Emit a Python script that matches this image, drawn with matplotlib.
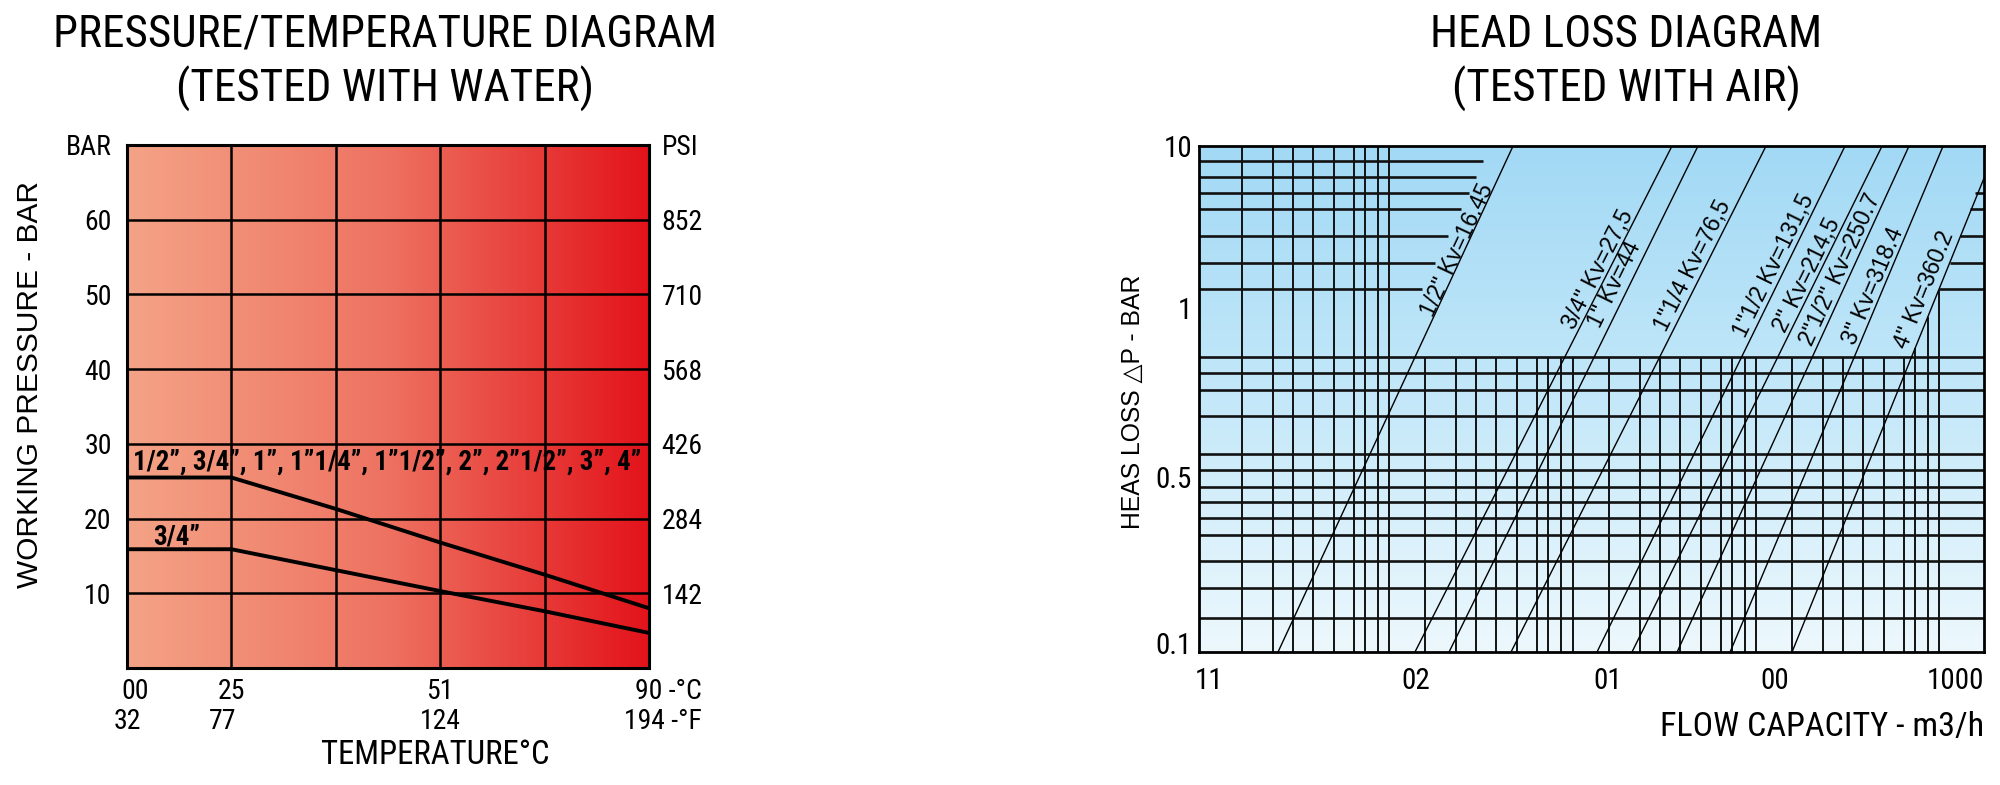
import os
import numpy as np
import matplotlib.pyplot as plt
from matplotlib import font_manager as fm
from matplotlib.colors import LinearSegmentedColormap

REGULAR = ['Liberation Sans', 'DejaVu Sans']


def find_condensed(bold=False):
    """Look for an installed condensed / narrow sans file."""
    prefs = ['roboto', 'liberationsans', 'notosans', 'dejavusans', 'opensans', 'lato', '']
    files = []
    for f in fm.fontManager.ttflist:
        base = os.path.splitext(os.path.basename(f.fname))[0].lower().replace(' ', '')
        if not ('condensed' in base or 'narrow' in base):
            continue
        if any(k in base for k in ['italic', 'oblique', 'mono', 'serif', 'semicondensed',
                                   'extracondensed', 'ultracondensed', 'display']):
            continue
        has_bold = 'bold' in base and not any(k in base for k in ['semibold', 'extrabold'])
        other = any(k in base for k in ['light', 'thin', 'medium', 'black', 'semibold', 'extrabold'])
        if bold and not has_bold:
            continue
        if not bold and (has_bold or other):
            continue
        files.append((base, f.fname))
    for p in prefs:
        for base, path in sorted(files):
            if base.startswith(p):
                return path
    return None


COND_PATH = find_condensed(False)
COND_BOLD_PATH = find_condensed(True) or COND_PATH


def cond(size, bold=False):
    path = COND_BOLD_PATH if bold else COND_PATH
    if path:
        return fm.FontProperties(fname=path, size=size)
    return fm.FontProperties(family='DejaVu Sans', size=size,
                             weight='bold' if bold else 'normal')


# ---------------- pressure / temperature (water) ----------------
temp_cols = [0, 1, 2, 3, 4, 5]              # grid columns of the chart
temp_label_cols = [0, 1, 3, 5]
temp_c_labels = ['00', '25', '51', '90 -°C']
temp_f_labels = ['32', '77', '124', '194 -°F']
bar_ticks = [10, 20, 30, 40, 50, 60]
psi_labels = ['142', '284', '426', '568', '710', '852']
p_all_sizes = [25.5, 25.5, 21.3, 16.8, 12.5, 8.0]   # 1/2" ... 4"
p_34 = [15.9, 15.9, 13.1, 10.3, 7.6, 4.7]          # 3/4"

# ---------------- head loss (air) ----------------
# x in "decade" units of the printed grid, y in percent of the chart height
decade_steps = [0.196, 0.365, 0.475, 0.584, 0.698, 0.807, 0.867, 0.938, 1.0]
vlines_full = decade_steps
vlines_low = [1.196, 1.365, 1.475, 1.584, 1.698, 1.807, 1.867, 1.938, 2.0,
              2.196, 2.365, 2.475, 2.584, 2.698, 2.807, 2.867, 2.938, 3.0,
              3.196, 3.365, 3.475, 3.584, 3.698, 3.807]
vlines_right = [3.867, 3.938, 4.0]
vlines_right_top = [60.1, 66.2, 71.5]
hlines_full = [58.3, 55.1, 51.8, 46.6, 39.1, 36.0, 32.6, 29.6, 26.5, 23.1, 18.0, 12.6, 6.7]
hlines_left_y = [97.0, 93.9, 90.7, 87.5, 82.2, 76.9, 71.7]
hlines_left_end = [1.511, 1.473, 1.435, 1.391, 1.320, 1.249, 1.178]
hlines_right_y = [90.7, 87.5, 82.2, 76.9, 71.7]
hlines_right_start = [4.195, 4.168, 4.114, 4.059, 4.0]

kv_labels = ['1/2" Kv=16.45', '3/4" Kv=27,5', '1" Kv=44', '1"1/4 Kv=76,5',
             '1"1/2 Kv=131,5', '2" Kv=214,5', '2"1/2" Kv=250.7', '3" Kv=318.4',
             '4" Kv=360.2']
kv_bottom = [0.393, 1.140, 1.326, 1.664, 2.133, 2.324, 2.570, 2.859, 3.197]
kv_top = [1.675, 2.542, 2.684, 3.055, 3.486, 3.688, 3.835, 4.021, 4.315]
kv_label_x = [1.369, 2.139, 2.231, 2.657, 3.099, 3.279, 3.459, 3.639, 3.917]
kv_label_y = [79.4, 75.7, 72.7, 76.3, 76.3, 74.5, 75.5, 72.3, 71.5]

hl_ytick_pos = [1.8, 34.6, 68.0, 100]
hl_ytick_labels = ['0.1', '0.5', '1', '10']
hl_xtick_pos = [0.016, 1.146, 2.193, 3.104, 4.086]
hl_xtick_labels = ['11', '02', '01', '00', '1000']

fig = plt.figure(figsize=(20, 7.85), dpi=100)
renderer = fig.canvas.get_renderer()


def fit(t, target, vertical=False):
    bb = t.get_window_extent(renderer)
    cur = bb.height if vertical else bb.width
    t.set_fontsize(t.get_fontsize() * target / cur)
    return t.get_fontsize()


# ================= left chart =================
axL = fig.add_axes([0.0635, 0.149, 0.261, 0.6663])
axL.set_xlim(0, 5)
axL.set_ylim(0, 70)
reds = LinearSegmentedColormap.from_list('reds', ['#F4A386', '#EE7261', '#E3131B'])
axL.imshow(np.linspace(0, 1, 256)[None, :], extent=(0, 5, 0, 70), aspect='auto',
           cmap=reds, zorder=0)
for x in temp_cols[1:-1]:
    axL.axvline(x, color='black', lw=1.8, zorder=1)
for y in bar_ticks:
    axL.axhline(y, color='black', lw=1.8, zorder=1)
axL.plot(temp_cols, p_all_sizes, color='black', lw=2.8, zorder=2)
axL.plot(temp_cols, p_34, color='black', lw=2.8, zorder=2)
for s in axL.spines.values():
    s.set_linewidth(2.2)

t = axL.text(0.06, 27.6, '1/2”, 3/4”, 1”, 1”1/4”, 1”1/2”, 2”, 2”1/2”, 3”, 4”',
             fontproperties=cond(15, True), va='center', zorder=3)
fit(t, 505)
axL.text(0.48, 17.6, '3/4”', fontproperties=cond(t.get_fontsize(), True),
         ha='center', va='center', zorder=3)

axL.set_yticks(bar_ticks + [70])
axL.set_yticklabels([str(v) for v in bar_ticks] + ['BAR'])
axL.set_xticks([])
axL.tick_params(axis='y', length=0, pad=11)
axL2 = axL.twinx()
axL2.set_ylim(0, 70)
axL2.set_yticks(bar_ticks + [70])
axL2.set_yticklabels(psi_labels + ['PSI'])
axL2.tick_params(axis='y', length=0, pad=9)
for s in axL2.spines.values():
    s.set_visible(False)
for lbl in axL.get_yticklabels() + axL2.get_yticklabels():
    lbl.set_fontproperties(cond(20))

xt = axL.get_xaxis_transform()
for x, c, f in zip(temp_label_cols, temp_c_labels, temp_f_labels):
    if x == temp_label_cols[-1]:
        axL.text(5.51, -0.044, c, transform=xt, ha='right', va='center', fontproperties=cond(20))
        axL.text(5.51, -0.103, f, transform=xt, ha='right', va='center', fontproperties=cond(20))
    else:
        axL.text(x + (0.08 if x == 0 else 0), -0.044, c, transform=xt, ha='center',
                 va='center', fontproperties=cond(20))
        axL.text(x - (0.08 if x == 1 else 0), -0.103, f, transform=xt, ha='center',
                 va='center', fontproperties=cond(20))

t = fig.text(0.2175, 0.038, 'TEMPERATURE°C', ha='center', va='center', fontproperties=cond(22))
fit(t, 228)
t = fig.text(0.015, 0.51, 'WORKING PRESSURE - BAR', rotation=90, ha='center', va='center',
             fontsize=21, family=REGULAR)
fit(t, 405, vertical=True)
t1 = fig.text(0.1925, 0.956, 'PRESSURE/TEMPERATURE DIAGRAM', ha='center', va='center',
              fontproperties=cond(30))
title_size = fit(t1, 663)
fig.text(0.1925, 0.887, '(TESTED WITH WATER)', ha='center', va='center',
         fontproperties=cond(title_size))

# ================= right chart =================
axR = fig.add_axes([0.5995, 0.1694, 0.3925, 0.6446])
x0, x1 = -0.038, 4.244
axR.set_xlim(x0, x1)
axR.set_ylim(0, 100)
blues = LinearSegmentedColormap.from_list('blues', ['#EDF8FD', '#C4E8F9', '#A2D9F5'])
axR.imshow(np.linspace(0, 1, 256)[:, None], origin='lower', extent=(x0, x1, 0, 100),
           aspect='auto', cmap=blues, zorder=0)

gc = '#121212'
axR.vlines(vlines_full, 0, 100, color=gc, lw=1.4, zorder=1)
axR.vlines(vlines_low, 0, 58.3, color=gc, lw=1.4, zorder=1)
axR.vlines(vlines_right, 0, vlines_right_top, color=gc, lw=1.4, zorder=1)
axR.hlines(hlines_full, x0, x1, color=gc, lw=1.9, zorder=1)
axR.hlines(hlines_left_y, x0, hlines_left_end, color=gc, lw=1.9, zorder=1)
axR.hlines(hlines_right_y, hlines_right_start, x1, color=gc, lw=1.9, zorder=1)

for b, tp, lab, lx, ly in zip(kv_bottom, kv_top, kv_labels, kv_label_x, kv_label_y):
    axR.plot([b, tp], [0, 100], color='black', lw=1.0, zorder=2)
    p0 = axR.transData.transform((b, 0))
    p1 = axR.transData.transform((tp, 100))
    ang = np.degrees(np.arctan2(p1[1] - p0[1], p1[0] - p0[0]))
    axR.text(lx, ly, lab, rotation=ang, rotation_mode='anchor', ha='center', va='center',
             fontsize=16.5, family=REGULAR, zorder=3)

for s in axR.spines.values():
    s.set_linewidth(2)
axR.set_yticks(hl_ytick_pos)
axR.set_yticklabels(hl_ytick_labels)
axR.set_xticks(hl_xtick_pos)
axR.set_xticklabels(hl_xtick_labels)
axR.tick_params(axis='y', length=0, pad=5)
axR.tick_params(axis='x', length=0, pad=11)
for lbl in axR.get_yticklabels() + axR.get_xticklabels():
    lbl.set_fontproperties(cond(21))

t = fig.text(0.992, 0.074, 'FLOW CAPACITY - m3/h', ha='right', va='center', fontproperties=cond(22))
fit(t, 324)
t = fig.text(0.5665, 0.488, 'HEAS LOSS △P - BAR', rotation=90, ha='center', va='center',
             fontsize=16.5, family=REGULAR)
fit(t, 255, vertical=True)
t = fig.text(0.813, 0.956, 'HEAD LOSS DIAGRAM', ha='center', va='center',
             fontproperties=cond(title_size))
fig.text(0.813, 0.887, '(TESTED WITH AIR)', ha='center', va='center',
         fontproperties=cond(title_size))

fig.savefig('out.png', dpi=100)
